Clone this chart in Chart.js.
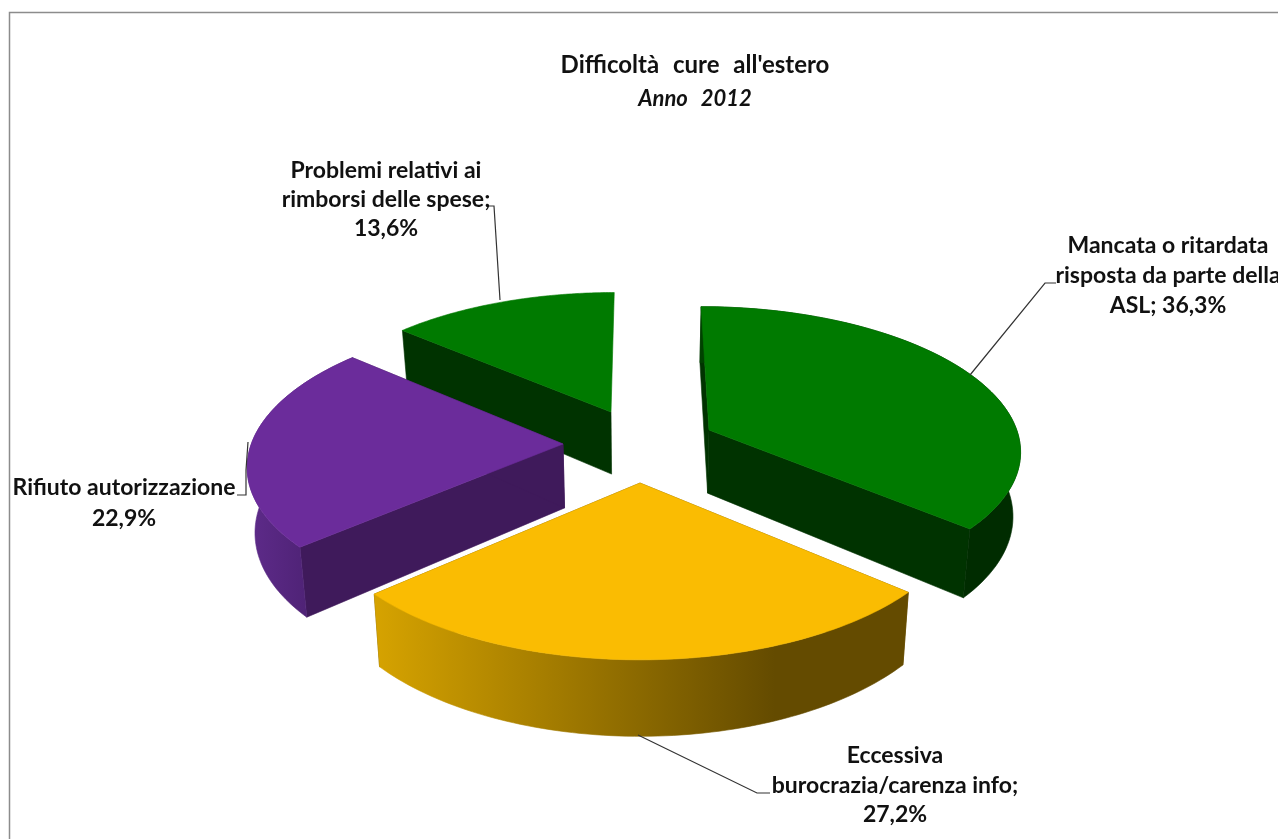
<!DOCTYPE html>
<html>
<head>
<meta charset="utf-8">
<style>html,body{margin:0;padding:0;background:#fff;overflow:hidden}canvas{display:block}</style>
<script src="https://cdn.jsdelivr.net/npm/chart.js@4/dist/chart.umd.min.js"></script>
</head>
<body>
<div style="width:1278px;height:839px"><canvas id="c" width="1278" height="839"></canvas></div>
<script>
const categories = ["Mancata o ritardata risposta da parte della ASL","Eccessiva burocrazia/carenza info","Rifiuto autorizzazione","Problemi relativi ai rimborsi delle spese"];
const values = [36.3, 27.2, 22.9, 13.6];
const topColors = ["#007A00","#FABC02","#6B2C9B","#007A00"];
const wallColors = ["#003300","#6E5200","#3F1A5B","#003300"];
const rimLight = ["#004200","#D6A300","#5E2B8A","#003300"];
const rimDark = ["#002C00","#644B00","#4A2070","#003300"];
const titleText = "Difficoltà cure all'estero";
const subtitleText = "Anno 2012";
const labelLines = [
  ["Mancata o ritardata","risposta da parte della","ASL; 36,3%"],
  ["Eccessiva","burocrazia/carenza info;","27,2%"],
  ["Rifiuto autorizzazione","22,9%"],
  ["Problemi relativi ai","rimborsi delle spese;","13,6%"]
];

// drawing configuration (projection of the tilted pie)
const view = {cx:640, cy:445, rx:312, ry:143, k:0.13, depth:64, shrink:0.02};
const apexes = [[709,430],[640,483],[563,444],[611,412]];
const paintOrder = [3,2,0,1];
const hideEndWall = [false,false,false,true];
const labelPlace = [
  {x:1168,y:[246,276,306]},
  {x:895,y:[756,786,815]},
  {x:124,y:[488,519]},
  {x:386,y:[171,200,229]}
];
const leaders = [
  [[970,375],[1045,283],[1056,283]],
  [[638,735],[757,793],[770,793]],
  [[248,442],[246,470],[246,495],[237,495]],
  [[500,300],[494,206],[488,206]]
];
const FONT = 'Lato, "Open Sans", sans-serif';

function unproject(sx, sy){
  const a=(sx-view.cx)/view.rx, b=(sy-view.cy)/view.ry, d=1+view.k*b;
  return [a/d, b/d];
}
function project(X, Y, low){
  const f=1/(1-view.k*Y);
  let sx=view.rx*X*f, sy=view.cy+view.ry*Y*f;
  if(low){ sx*=1-view.shrink; sy+=view.depth*f; }
  return [view.cx+sx, sy];
}
function rimPoints(center, a0, a1, low){
  const pts=[], n=80;
  for(let i=0;i<=n;i++){
    const t=a0+(a1-a0)*i/n;
    pts.push(project(center[0]+Math.sin(t), center[1]-Math.cos(t), low));
  }
  return pts;
}
function fillPoly(ctx, pts, style){
  ctx.beginPath();
  pts.forEach((p,i)=> i?ctx.lineTo(p[0],p[1]):ctx.moveTo(p[0],p[1]));
  ctx.closePath();
  ctx.fillStyle=style; ctx.fill();
  ctx.strokeStyle=style; ctx.lineWidth=0.6; ctx.stroke();
}
function drawSlice(ctx, arc, i){
  const c=unproject(apexes[i][0], apexes[i][1]);
  const a0=arc.startAngle+Math.PI/2, a1=arc.endAngle+Math.PI/2;
  const top=rimPoints(c,a0,a1,false), bot=rimPoints(c,a0,a1,true);
  const at=project(c[0],c[1],false), ab=project(c[0],c[1],true);
  // radial walls
  fillPoly(ctx,[at,top[0],bot[0],ab],wallColors[i]);
  if(!hideEndWall[i]) fillPoly(ctx,[at,top[top.length-1],bot[bot.length-1],ab],wallColors[i]);
  // outer rim
  const xs=top.map(p=>p[0]); const g=ctx.createLinearGradient(Math.min(...xs),0,Math.max(...xs),0);
  g.addColorStop(0,rimLight[i]); g.addColorStop(0.75,rimDark[i]); g.addColorStop(1,rimDark[i]);
  if(!hideEndWall[i]) fillPoly(ctx,top.concat(bot.slice().reverse()),g);
  // top face
  fillPoly(ctx,[at].concat(top),topColors[i]);
}
const pie3d = {
  id:'pie3d',
  beforeDraw(chart){
    const ctx=chart.ctx; ctx.save();
    ctx.strokeStyle='#8c8c8c'; ctx.lineWidth=1.5;
    ctx.strokeRect(9.5,12.5,1400,1000);
    ctx.restore();
    ctx.wordSpacing='8px';
  },
  beforeDatasetDraw(chart,args){
    const ctx=chart.ctx, arcs=chart.getDatasetMeta(args.index).data;
    ctx.save();
    paintOrder.forEach(i=>drawSlice(ctx,arcs[i],i));
    ctx.restore();
    return false;
  },
  afterDraw(chart){
    const ctx=chart.ctx; ctx.save();
    ctx.wordSpacing='0px';
    ctx.strokeStyle='#333'; ctx.lineWidth=1.2;
    leaders.forEach(l=>{ctx.beginPath();l.forEach((p,i)=>i?ctx.lineTo(p[0],p[1]):ctx.moveTo(p[0],p[1]));ctx.stroke();});
    ctx.fillStyle='#111'; ctx.font='bold 23px '+FONT; ctx.textAlign='center'; ctx.textBaseline='middle';
    labelLines.forEach((lines,i)=>lines.forEach((t,j)=>ctx.fillText(t,labelPlace[i].x,labelPlace[i].y[j])));
    ctx.restore();
  }
};
new Chart(document.getElementById('c'),{
  type:'pie',
  data:{labels:categories,datasets:[{data:values,backgroundColor:topColors,borderWidth:0}]},
  options:{
    responsive:false,animation:false,
    layout:{padding:{left:112}},
    plugins:{
      legend:{display:false},tooltip:{enabled:false},
      title:{display:true,text:titleText,color:'#111',font:{family:FONT,size:24,weight:'bold'},padding:{top:51,bottom:3}},
      subtitle:{display:true,text:subtitleText,color:'#111',font:{family:FONT,size:22,weight:'bold',style:'italic'},padding:{top:3,bottom:0}}
    }
  },
  plugins:[pie3d]
});
</script>
</body>
</html>
